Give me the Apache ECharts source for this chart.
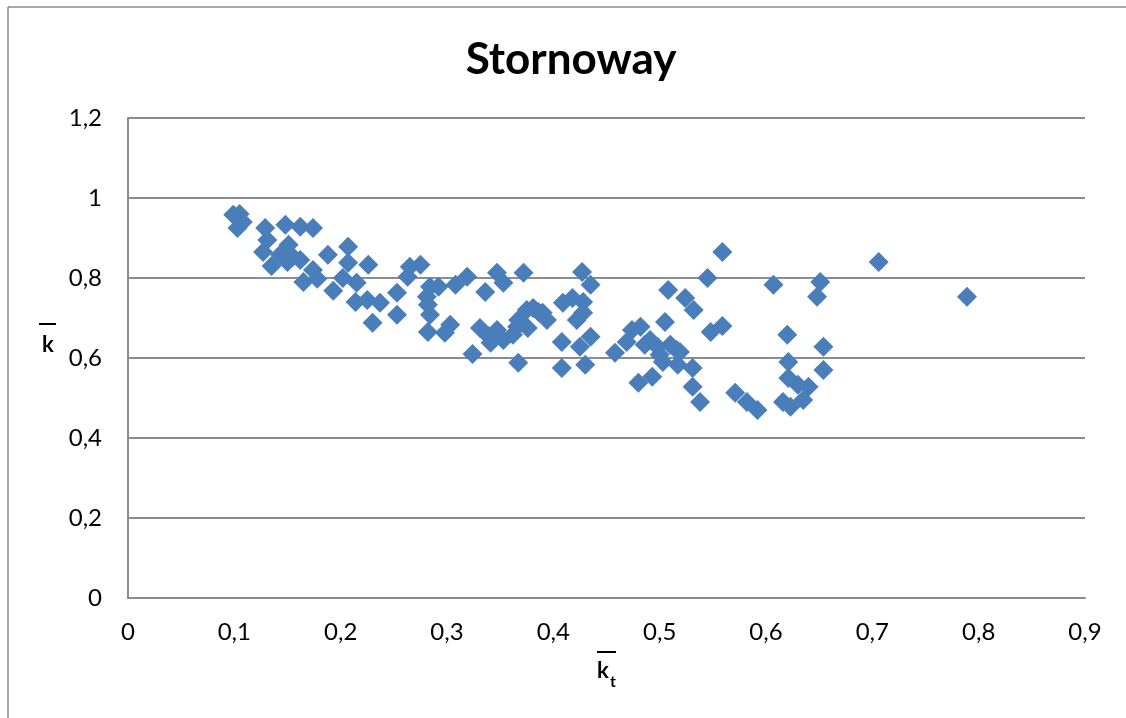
<!DOCTYPE html>
<html>
<head>
<meta charset="utf-8">
<title>Stornoway</title>
<script src="https://cdn.jsdelivr.net/npm/echarts@6/dist/echarts.min.js"></script>
<style>
  html, body { margin: 0; padding: 0; background: #fff; overflow: hidden; }
  #chart { width: 1126px; height: 718px; }
</style>
</head>
<body>
<div id="chart"></div>
<script>
// Mean clearness index (kt bar) against mean diffuse fraction (k bar), Stornoway
const ktValues = [
  0.099, 0.105, 0.108, 0.103,
  0.129, 0.148, 0.162, 0.174, 0.131, 0.151, 0.127, 0.143, 0.155, 0.135, 0.150, 0.162,
  0.174, 0.165, 0.178, 0.188, 0.207, 0.207, 0.226, 0.193, 0.202, 0.215, 0.214, 0.225,
  0.237, 0.230, 0.253, 0.253,
  0.265, 0.275, 0.263, 0.281, 0.284, 0.282, 0.284, 0.282, 0.292, 0.298, 0.303, 0.308,
  0.319, 0.324, 0.336, 0.347, 0.353, 0.372, 0.331, 0.339, 0.341, 0.347, 0.353, 0.362,
  0.367, 0.366, 0.375, 0.376, 0.381, 0.386, 0.390, 0.394, 0.367,
  0.409, 0.418, 0.428, 0.422, 0.428, 0.427, 0.435, 0.408, 0.425, 0.435, 0.408, 0.430,
  0.458, 0.469, 0.474, 0.482, 0.486, 0.491, 0.498, 0.500, 0.503, 0.480, 0.493, 0.508,
  0.505, 0.510, 0.516, 0.524, 0.532, 0.548, 0.559, 0.559, 0.545, 0.519, 0.517, 0.531,
  0.531, 0.538,
  0.571, 0.582, 0.592, 0.607, 0.620, 0.621, 0.621, 0.630, 0.640, 0.616, 0.623, 0.635,
  0.651, 0.648, 0.654, 0.654, 0.706, 0.789
];
const kValues = [
  0.958, 0.960, 0.940, 0.925,
  0.925, 0.933, 0.928, 0.925, 0.895, 0.883, 0.865, 0.858, 0.853, 0.830, 0.840, 0.845,
  0.820, 0.790, 0.798, 0.858, 0.878, 0.838, 0.833, 0.768, 0.800, 0.788, 0.740, 0.745,
  0.738, 0.688, 0.763, 0.708,
  0.828, 0.833, 0.803, 0.753, 0.778, 0.733, 0.708, 0.665, 0.778, 0.663, 0.683, 0.783,
  0.803, 0.610, 0.765, 0.813, 0.788, 0.813, 0.675, 0.655, 0.638, 0.670, 0.645, 0.658,
  0.695, 0.678, 0.720, 0.675, 0.725, 0.715, 0.713, 0.695, 0.588,
  0.738, 0.750, 0.740, 0.695, 0.713, 0.815, 0.783, 0.640, 0.628, 0.653, 0.575, 0.583,
  0.613, 0.640, 0.670, 0.678, 0.633, 0.645, 0.628, 0.608, 0.590, 0.538, 0.553, 0.770,
  0.690, 0.633, 0.620, 0.750, 0.720, 0.665, 0.680, 0.865, 0.800, 0.615, 0.583, 0.575,
  0.528, 0.490,
  0.513, 0.490, 0.470, 0.783, 0.658, 0.590, 0.550, 0.533, 0.528, 0.490, 0.478, 0.495,
  0.790, 0.753, 0.628, 0.570, 0.840, 0.753
];
const xTicks = [0, 0.1, 0.2, 0.3, 0.4, 0.5, 0.6, 0.7, 0.8, 0.9];
const yTicks = [0, 0.2, 0.4, 0.6, 0.8, 1, 1.2];

const points = ktValues.map((x, i) => [x, kValues[i]]);
const fmt = v => String(Math.round(v * 10) / 10).replace('.', ',');

const FONT = 'Lato, "Open Sans", sans-serif';
const GRID_GREY = '#8c8c8c';
const FRAME_GREY = '#8a8a8a';

const chart = echarts.init(document.getElementById('chart'));
chart.setOption({
  animation: false,
  backgroundColor: '#ffffff',
  textStyle: { fontFamily: FONT },
  title: {
    text: 'Stornoway',
    left: 566,
    textAlign: 'center',
    top: 33,
    textStyle: { fontFamily: FONT, fontSize: 44, fontWeight: 'bold', color: '#000' }
  },
  grid: { left: 128, top: 118, right: 41, bottom: 120, containLabel: false },
  xAxis: {
    type: 'value',
    min: xTicks[0],
    max: xTicks[xTicks.length - 1],
    interval: 0.1,
    axisLine: { show: true, lineStyle: { color: GRID_GREY, width: 2 } },
    axisTick: { show: false },
    splitLine: { show: false },
    axisLabel: {
      formatter: fmt, fontSize: 24, color: '#000', margin: 22, fontFamily: FONT,
      showMinLabel: true, showMaxLabel: true
    }
  },
  yAxis: {
    type: 'value',
    min: yTicks[0],
    max: yTicks[yTicks.length - 1],
    interval: 0.2,
    axisLine: { show: true, lineStyle: { color: GRID_GREY, width: 2 } },
    axisTick: { show: false },
    splitLine: { show: true, lineStyle: { color: GRID_GREY, width: 2 } },
    axisLabel: { formatter: fmt, fontSize: 24, color: '#000', margin: 26, fontFamily: FONT }
  },
  series: [{
    type: 'scatter',
    data: points,
    symbol: 'diamond',
    symbolSize: [20, 20],
    itemStyle: { color: '#4A7EBB', opacity: 1 }
  }],
  graphic: [
    // chart frame (top and left edges)
    { type: 'line', shape: { x1: 8, y1: 7, x2: 1126, y2: 7 },
      style: { stroke: FRAME_GREY, lineWidth: 1.5 }, silent: true },
    { type: 'line', shape: { x1: 8, y1: 7, x2: 8, y2: 718 },
      style: { stroke: FRAME_GREY, lineWidth: 1.5 }, silent: true },
    // y axis title: k with overbar
    { type: 'text', left: 42, top: 334,
      style: { text: 'k', font: 'bold 22px ' + FONT, fill: '#000' } },
    { type: 'rect', shape: { x: 39, y: 323, width: 17, height: 2 },
      style: { fill: '#000' } },
    // x axis title: k subscript t with overbar
    { type: 'text', left: 597, top: 660,
      style: { text: 'k', font: 'bold 22px ' + FONT, fill: '#000' } },
    { type: 'text', left: 610, top: 674,
      style: { text: 't', font: 'bold 16px ' + FONT, fill: '#000' } },
    { type: 'rect', shape: { x: 597, y: 651, width: 19, height: 2 },
      style: { fill: '#000' } }
  ]
});
</script>
</body>
</html>
